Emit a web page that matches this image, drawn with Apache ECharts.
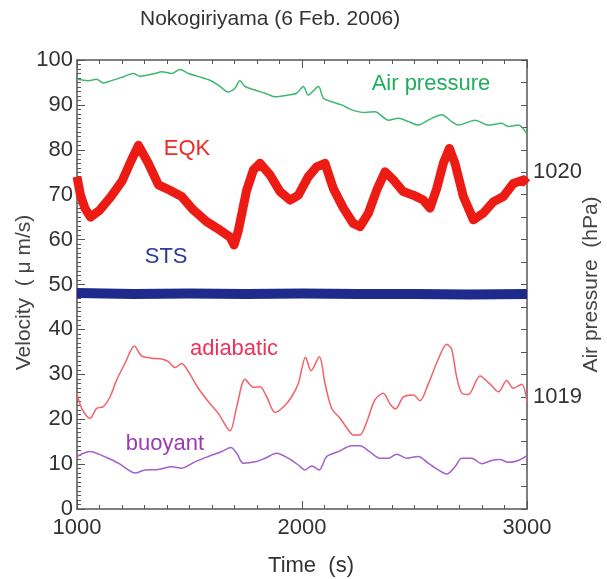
<!DOCTYPE html>
<html>
<head>
<meta charset="utf-8">
<script src="https://cdn.jsdelivr.net/npm/echarts@6/dist/echarts.min.js"></script>
<style>
  html, body { margin: 0; padding: 0; background: #fff; }
  #chart { width: 607px; height: 579px; }
</style>
</head>
<body>
<div id="chart"></div>
<script>
// time axis ticks / y ticks
const timeTicks = [1000, 2000, 3000];
const velocityTicks = [0, 10, 20, 30, 40, 50, 60, 70, 80, 90, 100];
const pressureTicks = [1019, 1020];

// Air pressure (hPa)
const pressureT = [1000, 1050, 1087, 1117, 1154, 1213, 1250, 1280, 1347, 1376, 1421, 1458, 1495, 1554, 1591, 1628,
  1673, 1702, 1724, 1747, 1791, 1836, 1880, 1939, 1976, 2006, 2028, 2073, 2095, 2132, 2176, 2221, 2280, 2324, 2384,
  2428, 2473, 2517, 2561, 2621, 2665, 2695, 2769, 2828, 2887, 2917, 2961, 3000];
const pressureV = [1020.414, 1020.408, 1020.414, 1020.398, 1020.408, 1020.428, 1020.44, 1020.428, 1020.44, 1020.448,
  1020.44, 1020.458, 1020.44, 1020.422, 1020.41, 1020.388, 1020.358, 1020.374, 1020.408, 1020.382, 1020.366, 1020.352,
  1020.336, 1020.344, 1020.352, 1020.382, 1020.344, 1020.382, 1020.33, 1020.314, 1020.30, 1020.278, 1020.266, 1020.27,
  1020.232, 1020.24, 1020.226, 1020.21, 1020.232, 1020.256, 1020.226, 1020.21, 1020.232, 1020.21, 1020.218, 1020.204,
  1020.21, 1020.17];

// EQK velocity
const eqkT = [1000, 1015, 1035, 1060, 1100, 1150, 1200, 1240, 1273, 1317, 1362, 1413, 1465, 1517, 1576, 1636, 1680,
  1698, 1717, 1754, 1784, 1813, 1858, 1902, 1947, 1984, 2028, 2065, 2102, 2139, 2184, 2228, 2258, 2295, 2332, 2369,
  2406, 2450, 2495, 2539, 2569, 2599, 2628, 2655, 2680, 2717, 2762, 2806, 2850, 2895, 2939, 2984, 3000];
const eqkV = [74, 70, 67, 65, 66.5, 69.5, 73, 77.5, 81, 77, 72.2, 71, 69.6, 66.6, 64, 62.1, 60.6,
  58.8, 62, 71, 75.5, 77, 74.4, 70.7, 68.8, 69.9, 74, 76.2, 77, 71.4, 67, 63.6, 62.9, 65.9, 71, 75.1,
  73.3, 70.7, 69.9, 68.8, 67, 71.4, 77, 80.3, 77, 69.6, 64.4, 65.9, 68.4, 69.6, 72.5, 73.3, 72.5];

// STS velocity
const stsT = [1000, 1250, 1500, 1750, 2000, 2250, 2500, 2750, 3000];
const stsV = [48.1, 47.9, 48.0, 47.9, 48.0, 47.9, 47.9, 47.8, 47.9];

// adiabatic
const adiaT = [1000, 1021, 1058, 1087, 1117, 1147, 1176, 1213, 1255, 1287, 1332, 1376, 1406, 1436, 1465, 1495, 1539,
  1584, 1628, 1680, 1710, 1747, 1784, 1813, 1843, 1880, 1917, 1954, 1984, 2016, 2040, 2077, 2102, 2132, 2169, 2206,
  2228, 2258, 2287, 2324, 2361, 2391, 2416, 2450, 2495, 2524, 2561, 2606, 2643, 2665, 2687, 2710, 2739, 2791, 2836,
  2873, 2910, 2939, 2976, 3000];
const adiaV = [25.8, 22.4, 20.2, 22.4, 22.8, 25.0, 28.7, 32.4, 36.3, 34.1, 33.6, 33.4, 32.8, 31.5, 32.4, 30.6, 26.9,
  23.9, 21.3, 17.4, 22.8, 28.9, 27.1, 27.2, 25.0, 21.5, 22.7, 25.0, 28.0, 33.8, 30.8, 33.9, 28.0, 22.4, 20.2, 17.6,
  16.5, 16.5, 19.3, 24.3, 25.8, 23.4, 22.3, 24.9, 25.4, 24.1, 27.8, 33.4, 36.7, 35.6, 29.5, 25.8, 25.5, 29.6, 27.8,
  26.1, 28.6, 26.9, 27.8, 23.9];

// buoyant
const buoyT = [1000, 1058, 1102, 1139, 1184, 1228, 1258, 1302, 1361, 1421, 1465, 1524, 1584, 1643, 1684, 1710, 1739,
  1791, 1836, 1887, 1939, 1984, 2013, 2043, 2076, 2110, 2162, 2221, 2258, 2302, 2347, 2384, 2421, 2465, 2517, 2561,
  2606, 2643, 2680, 2710, 2754, 2799, 2843, 2880, 2917, 2961, 3000];
const buoyV = [11.7, 12.8, 12.1, 11.3, 10.2, 8.7, 8.0, 8.7, 8.8, 9.4, 9.1, 10.5, 11.7, 12.8, 13.7, 12.4, 10.2,
  10.5, 11.3, 12.4, 11.3, 9.8, 8.7, 9.6, 8.7, 11.7, 12.8, 14.1, 14.1, 12.7, 11.3, 11.3, 12.2, 11.3, 11.7, 10.2,
  8.7, 7.8, 9.4, 11.3, 11.3, 10.1, 10.8, 11.0, 10.4, 10.8, 11.9];

// text annotations placed in data coordinates
const labelNames = ["Air pressure", "EQK", "STS", "adiabatic", "buoyant"];
const labelT = [2573, 1489, 1396, 1698, 1391];
const labelV = [1020.393, 80.2, 56.1, 35.6, 14.5];

const FONT = "Liberation Sans, Arial, Helvetica, sans-serif";
const AXIS_COLOR = "#555";
const TEXT_COLOR = "#333";

const zip = (t, v) => t.map((x, i) => [x, v[i]]);

const tag = (i, color) => ({
  symbol: "circle",
  symbolSize: 0,
  silent: true,
  animation: false,
  label: {
    show: true,
    position: "inside",
    formatter: labelNames[i],
    color: color,
    fontSize: 22,
    fontFamily: FONT,
  },
  data: [{ coord: [labelT[i], labelV[i]] }],
});

const lineSeries = (name, data, color, width, yAxisIndex, smooth, markIdx, labelColor) => ({
  name: name,
  type: "line",
  data: data,
  xAxisIndex: 0,
  yAxisIndex: yAxisIndex,
  showSymbol: false,
  smooth: smooth,
  animation: false,
  lineStyle: { color: color, width: width, join: "round", cap: "butt" },
  markPoint: tag(markIdx, labelColor),
});

const chart = echarts.init(document.getElementById("chart"));

const option = {
  backgroundColor: "#fff",
  animation: false,
  title: {
    text: "Nokogiriyama (6 Feb. 2006)",
    left: 140,
    top: 9,
    padding: 0,
    textStyle: { fontSize: 21, fontWeight: "normal", color: TEXT_COLOR, fontFamily: FONT },
  },
  grid: { left: 77, right: 80, top: 60, bottom: 70, outerBoundsMode: "none", containLabel: false },
  xAxis: [
    {
      type: "value",
      position: "bottom",
      min: timeTicks[0],
      max: timeTicks[timeTicks.length - 1],
      interval: 1000,
      name: "Time  (s)",
      nameLocation: "middle",
      nameGap: 46,
      nameMoveOverlap: false,
      nameTextStyle: { fontSize: 22, color: TEXT_COLOR, fontFamily: FONT, padding: [0, 0, 0, 18] },
      axisLine: { lineStyle: { color: AXIS_COLOR, width: 1.5 } },
      axisTick: { inside: true, length: 8, lineStyle: { color: AXIS_COLOR } },
      minorTick: { show: true, splitNumber: 10, length: 4, lineStyle: { color: AXIS_COLOR } },
      axisLabel: { fontSize: 22, color: TEXT_COLOR, fontFamily: FONT, margin: 8, formatter: (v) => String(v) },
      splitLine: { show: false },
    },
    {
      type: "value",
      position: "top",
      min: timeTicks[0],
      max: timeTicks[timeTicks.length - 1],
      interval: 1000,
      axisLine: { lineStyle: { color: AXIS_COLOR, width: 1.5 } },
      axisTick: { inside: true, length: 8, lineStyle: { color: AXIS_COLOR } },
      minorTick: { show: true, splitNumber: 10, length: 4, lineStyle: { color: AXIS_COLOR } },
      axisLabel: { show: false },
      splitLine: { show: false },
    },
  ],
  yAxis: [
    {
      type: "value",
      position: "left",
      min: velocityTicks[0],
      max: velocityTicks[velocityTicks.length - 1],
      interval: 10,
      name: "Velocity  ( \u03bc m/s)",
      nameLocation: "middle",
      nameRotate: 90,
      nameGap: 42,
      nameMoveOverlap: false,
      nameTextStyle: { fontSize: 21, color: "#444", fontFamily: FONT, padding: [0, 16, 0, 0] },
      axisLine: { show: true, lineStyle: { color: AXIS_COLOR, width: 1.5 } },
      axisTick: { show: true, inside: true, length: 8, lineStyle: { color: AXIS_COLOR } },
      minorTick: { show: true, splitNumber: 10, length: 4, lineStyle: { color: AXIS_COLOR } },
      axisLabel: { fontSize: 22, color: TEXT_COLOR, fontFamily: FONT, margin: 4 },
      splitLine: { show: false },
    },
    {
      type: "value",
      position: "right",
      min: 1018.5,
      max: 1020.5,
      interval: 0.5,
      name: "Air pressure  (hPa)",
      nameLocation: "middle",
      nameRotate: 90,
      nameGap: 54,
      nameMoveOverlap: false,
      nameTextStyle: { fontSize: 21, color: "#444", fontFamily: FONT },
      axisLine: { show: true, lineStyle: { color: AXIS_COLOR, width: 1.5 } },
      axisTick: { show: true, inside: true, length: 6, lineStyle: { color: AXIS_COLOR } },
      minorTick: { show: true, splitNumber: 5, length: 6, lineStyle: { color: AXIS_COLOR } },
      axisLabel: {
        fontSize: 22,
        color: TEXT_COLOR,
        fontFamily: FONT,
        margin: 6,
        formatter: (v) => (pressureTicks.indexOf(Math.round(v * 10) / 10) >= 0 ? String(Math.round(v)) : ""),
      },
      splitLine: { show: false },
    },
  ],
  series: [
    lineSeries("Air pressure", zip(pressureT, pressureV), "#3cb872", 1.5, 1, 0.3, 0, "#1fae5b"),
    lineSeries("EQK", zip(eqkT, eqkV), "#ec1c14", 9, 0, false, 1, "#ee2a22"),
    lineSeries("STS", zip(stsT, stsV), "#1e2a8c", 10, 0, false, 2, "#2d3a9c"),
    lineSeries("adiabatic", zip(adiaT, adiaV), "#f4606a", 1.5, 0, 0.3, 3, "#ec3258"),
    lineSeries("buoyant", zip(buoyT, buoyV), "#a45fc9", 1.5, 0, 0.3, 4, "#9a3ab5"),
  ],
};

chart.setOption(option);
</script>
</body>
</html>
